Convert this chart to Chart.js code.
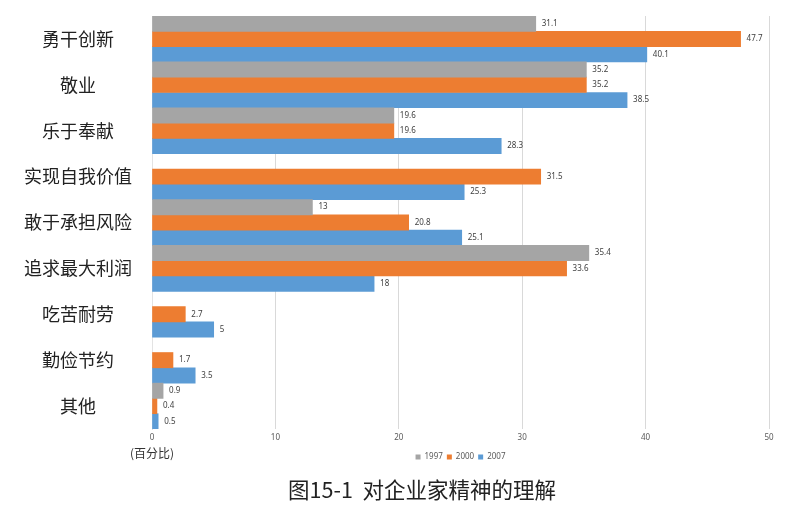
<!DOCTYPE html>
<html>
<head>
<meta charset="utf-8">
<script src="https://cdn.jsdelivr.net/npm/chart.js@4.4.1/dist/chart.umd.min.js"></script>
<style>
    html, body { margin: 0; padding: 0; background: #ffffff; }
    #wrap { width: 800px; height: 508px; position: relative; }
</style>
</head>
<body>
<div id="wrap"><canvas id="chart"></canvas></div>
<script>
const categories = ['勇干创新', '敬业', '乐于奉献', '实现自我价值', '敢于承担风险', '追求最大利润', '吃苦耐劳', '勤俭节约', '其他'];
const years = ['1997', '2000', '2007'];
const values1997 = [31.1, 35.2, 19.6, null, 13, 35.4, null, null, 0.9];
const values2000 = [47.7, 35.2, 19.6, 31.5, 20.8, 33.6, 2.7, 1.7, 0.4];
const values2007 = [40.1, 38.5, 28.3, 25.3, 25.1, 18, 5, 3.5, 0.5];
const xTicks = [0, 10, 20, 30, 40, 50];
const unitLabel = '(百分比)';
const caption = '图15-1  对企业家精神的理解';

const colors = ['#a5a5a5', '#ed7d31', '#5b9bd5'];
const cjkFont = '"Noto Sans CJK SC", "Noto Sans", sans-serif';
const smallFont = '"Noto Sans", "DejaVu Sans", sans-serif';

// valores al final de cada barra
const valueLabels = {
    id: 'valueLabels',
    afterDatasetsDraw(chart) {
        const ctx = chart.ctx;
        ctx.save();
        ctx.font = '8px ' + smallFont;
        ctx.fillStyle = '#404040';
        ctx.textAlign = 'left';
        ctx.textBaseline = 'middle';
        chart.data.datasets.forEach((ds, i) => {
            const meta = chart.getDatasetMeta(i);
            meta.data.forEach((bar, j) => {
                const v = ds.data[j];
                if (v === null || v === undefined) return;
                ctx.fillText(String(v), bar.x + 6, bar.y);
            });
        });
        ctx.restore();
    }
};

// unidad bajo el cero y pie de figura
const extraText = {
    id: 'extraText',
    afterDraw(chart) {
        const ctx = chart.ctx;
        const x0 = chart.scales.x.getPixelForValue(0);
        ctx.save();
        ctx.textAlign = 'center';
        ctx.textBaseline = 'middle';
        ctx.fillStyle = '#333333';
        ctx.font = '12px ' + cjkFont;
        ctx.fillText(unitLabel, x0, 453);
        ctx.fillStyle = '#222222';
        ctx.font = '21.5px ' + cjkFont;
        ctx.fillText(caption, 422, 490);
        ctx.restore();
    }
};

new Chart(document.getElementById('chart'), {
    type: 'bar',
    data: {
        labels: categories,
        datasets: [
            { label: years[0], data: values1997, backgroundColor: colors[0] },
            { label: years[1], data: values2000, backgroundColor: colors[1] },
            { label: years[2], data: values2007, backgroundColor: colors[2] }
        ]
    },
    options: {
        indexAxis: 'y',
        responsive: true,
        maintainAspectRatio: false,
        animation: false,
        categoryPercentage: 1,
        barPercentage: 1,
        layout: { padding: { top: 16, right: 31, bottom: 37, left: 0 } },
        plugins: {
            tooltip: { enabled: false },
            legend: {
                position: 'bottom',
                fullSize: false,
                labels: {
                    boxWidth: 5,
                    boxHeight: 5,
                    padding: 4,
                    color: '#595959',
                    font: { size: 8, family: smallFont }
                }
            }
        },
        scales: {
            x: {
                min: xTicks[0],
                max: xTicks[xTicks.length - 1],
                afterBuildTicks: scale => { scale.ticks = xTicks.map(v => ({ value: v })); },
                afterFit: scale => { scale.height = 20; },
                grid: { color: '#d9d9d9', drawTicks: false },
                border: { display: false },
                ticks: { padding: 4, color: '#595959', font: { size: 8, family: smallFont } }
            },
            y: {
                afterFit: scale => {
                    scale.width = 152;
                    scale.paddingTop = 0;
                    scale.paddingBottom = 0;
                },
                grid: { display: false },
                border: { color: '#e3e3e3' },
                ticks: {
                    crossAlign: 'center',
                    padding: 12,
                    color: '#222222',
                    font: { size: 18, family: cjkFont }
                }
            }
        }
    },
    plugins: [valueLabels, extraText]
});
</script>
</body>
</html>
